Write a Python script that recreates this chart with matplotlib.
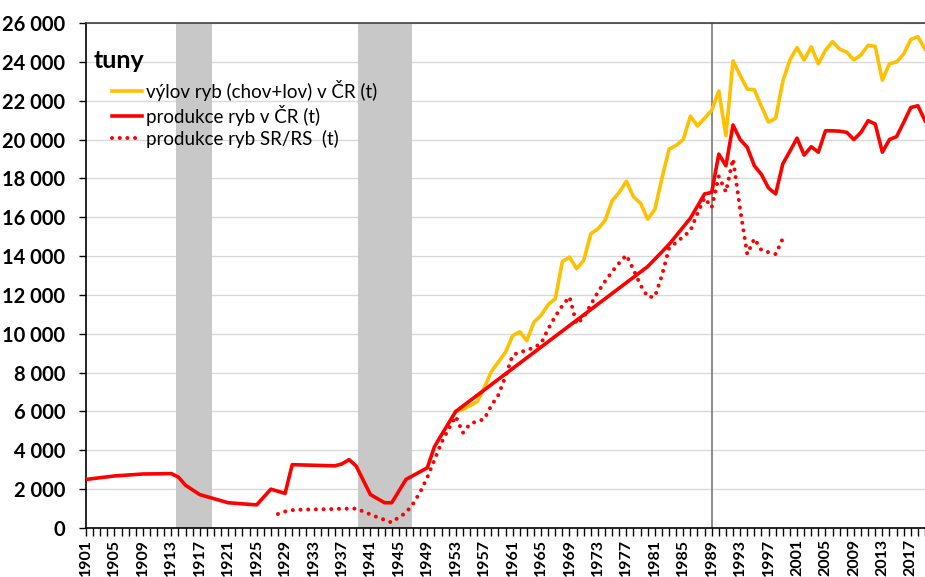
import numpy as np
import matplotlib.pyplot as plt
import matplotlib.transforms as mtransforms

plt.rcParams['font.family'] = ['Lato', 'DejaVu Sans']

# produkce ryb v CR (t)
red_years = [1901, 1905, 1909, 1913, 1914, 1915, 1917, 1921, 1925, 1927, 1929, 1930,
             1936, 1937, 1938, 1939, 1941, 1943, 1944, 1946, 1949, 1950, 1951, 1952,
             1953, 1980, 1983, 1986, 1988, 1989, 1990, 1991, 1992, 1993, 1994, 1995,
             1996, 1997, 1998, 1999, 2000, 2001, 2002, 2003, 2004, 2005, 2006, 2007,
             2008, 2009, 2010, 2011, 2012, 2013, 2014, 2015, 2016, 2017, 2018, 2019]
red_tons = [2500, 2680, 2780, 2800, 2620, 2200, 1720, 1300, 1190, 2000, 1780, 3260,
            3200, 3300, 3520, 3190, 1720, 1300, 1300, 2500, 3100, 4180, 4800, 5400,
            6000, 13460, 14600, 15950, 17200, 17280, 19250, 18650, 20750, 20000, 19600, 18650,
            18200, 17500, 17200, 18750, 19400, 20070, 19200, 19630, 19350, 20450, 20450, 20430,
            20370, 20000, 20370, 20970, 20800, 19350, 20000, 20150, 20880, 21650, 21740, 20970]

# vylov ryb (chov+lov) v CR (t)
orange_years = list(range(1953, 2020))
orange_tons = [6000, 6100, 6300, 6500, 7200, 8050, 8550, 9050, 9900, 10100,
               9650, 10600, 10950, 11500, 11800, 13720, 13950, 13350, 13780, 15150,
               15400, 15830, 16850, 17280, 17850, 17050, 16720, 15900, 16400, 18000,
               19500, 19700, 20000, 21200, 20700, 21100, 21500, 22500, 20200, 24050,
               23300, 22600, 22560, 21700, 20900, 21100, 23000, 24100, 24730, 24100,
               24770, 23900, 24600, 25040, 24650, 24500, 24100, 24360, 24850, 24800,
               23060, 23900, 24000, 24400, 25150, 25300, 24650]

# produkce ryb SR/RS (t)
dot_years = [1928, 1929, 1930, 1931, 1933, 1935, 1937, 1939, 1940, 1941, 1942, 1943,
             1944, 1945, 1946, 1947, 1948, 1949, 1950, 1951, 1952, 1953, 1954, 1955,
             1956, 1957, 1958, 1959, 1960, 1961, 1962, 1963, 1964, 1965, 1966, 1967,
             1968, 1969, 1970, 1971, 1972, 1973, 1974, 1975, 1976, 1977, 1978, 1979,
             1980, 1981, 1982, 1983, 1984, 1985, 1986, 1987, 1988, 1989, 1990, 1991,
             1992, 1993, 1994, 1995, 1996, 1997, 1998, 1999]
dot_tons = [720, 850, 920, 940, 960, 970, 990, 1000, 850, 700, 550, 420,
            280, 560, 780, 1250, 1850, 2600, 3500, 4400, 5100, 5750, 4900, 5350,
            5500, 5600, 6300, 6850, 7800, 8900, 9050, 9150, 9300, 9500, 10250, 10900,
            11450, 11900, 10500, 10850, 11500, 12150, 12700, 13200, 13650, 14050, 13300, 12500,
            11900, 11900, 13000, 14400, 14700, 15000, 15300, 16200, 17000, 16500, 18100, 17300,
            19000, 16400, 14100, 14900, 14300, 14200, 14100, 14900]

war_bands = [(1913.6, 1918.7), (1939.3, 1946.8)]
marker_year = 1989

fig = plt.figure(figsize=(9.25, 5.77), dpi=100)
ax = fig.add_axes([86 / 925, 1 - 528 / 577, 1 - 86 / 925, (528 - 23) / 577])

for a, b in war_bands:
    ax.axvspan(a, b, color='#c8c8c8', lw=0, zorder=1)
ax.axvline(marker_year, color='#8c8c8c', lw=1.4, zorder=2)

ax.plot(orange_years, orange_tons, color='#ffc000', lw=2.6, zorder=4,
        label='výlov ryb (chov+lov) v ČR (t)')
ax.plot(red_years, red_tons, color='#ff0000', lw=2.6, zorder=5,
        label='produkce ryb v ČR (t)')
ax.plot(dot_years, dot_tons, color='#ff0000', lw=2.9, ls=(0, (0.01, 1.9)),
        dash_capstyle='round', zorder=3, label='produkce ryb SR/RS  (t)')

ax.set_xlim(1901, 1901 + (925 - 86) / 7.12)
ax.set_ylim(0, 26000)

yt = np.arange(0, 26001, 2000)
ax.set_yticks(yt)
ax.set_yticklabels([f'{v:,}'.replace(',', ' ') for v in yt], fontsize=14.5, fontweight='bold')
ax.yaxis.grid(True, color='#d9d9d9', lw=1, zorder=0)
ax.set_axisbelow(True)

ax.set_xticks(np.arange(1901, 2019, 4))
ax.set_xticks(np.arange(1901, 2020, 1), minor=True)
ax.set_xticklabels([str(y) for y in range(1901, 2019, 4)], rotation=90,
                   fontsize=11.5, fontweight='bold')
offset = mtransforms.ScaledTranslation(3 / 100, 0, fig.dpi_scale_trans)
for lbl in ax.get_xticklabels():
    lbl.set_transform(lbl.get_transform() + offset)
ax.tick_params(axis='x', which='both', direction='out', length=6, width=1, pad=2)
ax.tick_params(axis='y', direction='out', length=5, width=1, pad=10)

for side in ['left', 'bottom']:
    ax.spines[side].set_color('black')
    ax.spines[side].set_linewidth(1.2)
ax.spines['top'].set_color('#404040')
ax.spines['top'].set_linewidth(1.2)
ax.spines['right'].set_visible(False)

fig.text(94 / 925, 1 - 61 / 577, 'tuny', fontsize=18, fontweight='bold',
         va='center', ha='left')

leg = ax.legend(loc='upper left', bbox_to_anchor=(112 / 925, 1 - 80 / 577),
                bbox_transform=fig.transFigure, frameon=False, fontsize=13.5,
                handlelength=1.6, handletextpad=0.2, labelspacing=0.2,
                borderaxespad=0, borderpad=0)

plt.savefig('out.png', dpi=100)
